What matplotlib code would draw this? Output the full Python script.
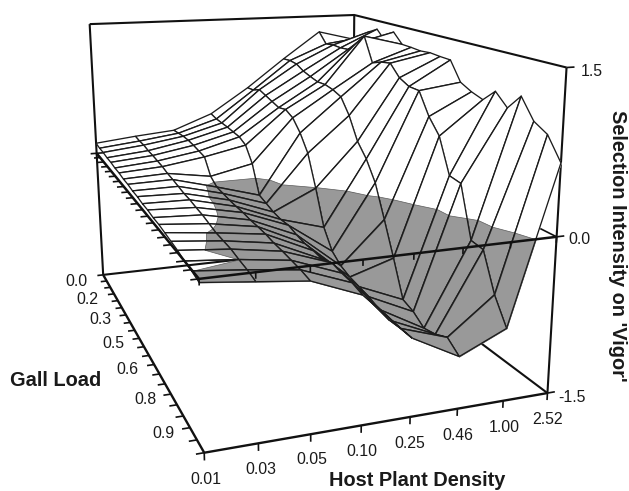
"""Selection intensity on 'vigor' over gall load and host plant density (surface)."""
import numpy as np
import matplotlib

matplotlib.use("Agg")
import matplotlib.pyplot as plt
from mpl_toolkits.mplot3d.art3d import Poly3DCollection

W, H = 629, 491

host_labels = ["0.01", "0.03", "0.05", "0.10", "0.25", "0.46", "1.00", "2.52"]
gall_labels = ["0.0", "0.2", "0.3", "0.5", "0.6", "0.8", "0.9"]
z_ticks = [-1.5, 0.0, 1.5]

# selection intensity per host density column, gall load 0.00 .. 1.00 in steps of 0.05
s_001 = [.12, .11, .11, .10, .10, .09, .09, .08, .08, .07, .07, .06, .06, .05, .05, .04, .03, .02, .00, -.01, -.03]
s_003 = [.17, .16, .16, .145, .14, .13, .12, .10, .09, .075, .06, .055, .04, .03, .01, -.01, -.015, -.02, -.04, -.055, -.08]
s_005 = [.21, .22, .23, .23, .22, .205, .19, .03, -.03, -.04, -.05, -.055, -.055, -.065, -.065, -.07, -.085, -.09, -.10, -.11, -.13]
s_010 = [.38, .36, .355, .35, .34, .33, .285, .13, -.16, -.19, -.22, -.235, -.23, -.26, -.28, -.28, -.29, -.25, -.27, -.28, -.31]
s_025 = [.67, .68, .72, .69, .66, .63, .65, .60, .48, .31, -.01, -.365, -.55, -.63, -.67, -.69, -.71, -.75, -.77, -.76, -.76]
s_046 = [1.0, 1.01, 1.0, .95, .92, .895, .90, .88, .84, .68, .45, .315, .12, -.20, -.53, -.88, -.92, -1.0, -.97, -.91, -1.0]
s_100 = [1.31, 1.19, 1.205, 1.20, 1.21, 1.307, 1.415, 1.15, 1.19, 1.21, 1.09, 1.035, 1.03, .81, .66, .32, .30, -.19, -.21, -.565, -.80]
s_252 = [1.20, 1.25, 1.345, 1.40, 1.29, 1.417, 1.305, 1.30, 1.29, 1.30, 1.29, 1.285, 1.09, 1.03, .99, 1.11, .99, 1.14, .95, .875, .67]

Z = np.array([s_001, s_003, s_005, s_010, s_025, s_046, s_100, s_252])
nu, nv = Z.shape
umax, vmax = nu - 1, nv - 1
zlo, zhi = z_ticks[0], z_ticks[-1]

# camera: where the box corners land in the picture (pixels, y down)
cam_world = [(0, 0, zlo), (0, vmax, zlo), (umax, vmax, zlo), (umax, 0, zlo),
             (0, 0, zhi), (umax, 0, zhi), (umax, vmax, zhi),
             (0, 0, 0), (0, vmax, 0), (umax, vmax, 0)]
cam_pixel = [(102, 274), (204, 453), (546, 393), (354, 247),
             (90, 24), (353, 15), (567, 67),
             (97, 154), (200, 279), (557, 237)]


def fit_camera(world, pixel):
    """3x4 projective camera from point pairs (DLT), output in figure pixels."""
    rows = []
    for (x, y, z), (px, py) in zip(world, pixel):
        px, py = px / W, (H - py) / H
        p = [x / umax, y / vmax, z / zhi, 1.0]
        rows.append(p + [0, 0, 0, 0] + [-px * c for c in p])
        rows.append([0, 0, 0, 0] + p + [-py * c for c in p])
    P = np.linalg.svd(np.array(rows))[2][-1].reshape(3, 4)
    if P[2] @ np.array([.5, .5, 0, 1]) < 0:
        P = -P
    return np.diag([W, H, 1.0]) @ P @ np.diag([1 / umax, 1 / vmax, 1 / zhi, 1.0])


fig = plt.figure(figsize=(W / 100, H / 100), dpi=100)
ax = fig.add_axes([0, 0, 1, 1], projection="3d", computed_zorder=False)
ax.apply_aspect = lambda position=None: None
ax.set_axis_off()

P = fit_camera(cam_world, cam_pixel)
inv = ax.transData.inverted().get_matrix()
M = np.vstack([inv[0, 0] * P[0] + inv[0, 2] * P[2],
               inv[1, 1] * P[1] + inv[1, 2] * P[2],
               [0, 0, 0, -1.0],
               P[2]])
ax.get_proj = lambda: M


def line(us, vs, zs, lw=1.5, color="#111111", zorder=1):
    ax.plot(us, vs, zs, color=color, lw=lw, zorder=zorder, solid_capstyle="butt", clip_on=False)


# walls behind the surface
line([0, 0], [0, 0], [zlo, zhi])
line([umax, umax], [0, 0], [zlo, zhi])
line([umax, umax], [vmax, vmax], [zlo, zhi])
line([0, umax, umax], [0, 0, vmax], [zhi, zhi, zhi])
line([0, umax, umax], [0, 0, vmax], [zlo, zlo, zlo])
line([0, umax, umax], [0, 0, vmax], [0, 0, 0], lw=1.2)

# floor frame and its ticks
line([0, 0, umax], [0, vmax, vmax], [zlo, zlo, zlo], lw=1.7)
for v in range(nv):
    line([0, -0.15], [v, v], [zlo, zlo], lw=1.2)
for u in range(nu):
    line([u, u], [vmax, vmax], [zlo, zlo - 0.07], lw=1.2)
for z in z_ticks:
    line([umax, umax + 0.17], [vmax, vmax], [z, z], lw=1.2)


def split_quad(quad):
    """Cut a quad at z=0 into the part above and the part below."""
    above, below = [], []
    for a, b in zip(quad, quad[1:] + quad[:1]):
        (above if a[2] >= 0 else below).append(a)
        if a[2] * b[2] < 0:
            t = a[2] / (a[2] - b[2])
            cross = (a[0] + t * (b[0] - a[0]), a[1] + t * (b[1] - a[1]), 0.0)
            above.append(cross)
            below.append(cross)
    return above, below


# painter's order: far gall load row first, far host density column first
order = 10
for v in range(nv - 1):
    for u in range(nu - 2, -1, -1):
        quad = [(u, v, Z[u, v]), (u + 1, v, Z[u + 1, v]),
                (u + 1, v + 1, Z[u + 1, v + 1]), (u, v + 1, Z[u, v + 1])]
        above, below = split_quad(quad)
        if len(above) > 2:
            ax.add_collection3d(Poly3DCollection([above], facecolors="white", edgecolors="white",
                                                 linewidths=0.3, zorder=order), autolim=False)
        if len(below) > 2:
            ax.add_collection3d(Poly3DCollection([below], facecolors="#999999", edgecolors="#5a5a5a",
                                                 linewidths=0.5, zorder=order + 1), autolim=False)
        xs, ys, zs = zip(*(quad + quad[:1]))
        line(xs, ys, zs, lw=0.95, color="#1c1c1c", zorder=order + 2)
        order += 3

# axes at the zero level lie on top of the surface
line([0, 0, umax], [0, vmax, vmax], [0, 0, 0], lw=1.8, zorder=order)
for v in range(nv):
    line([0, -0.15], [v, v], [0, 0], lw=1.2, zorder=order)
for u in range(nu):
    line([u, u], [vmax, vmax], [0, -0.055], lw=1.2, zorder=order)


def label(x, y, text, **kw):
    kw.setdefault("fontsize", 11.4)
    fig.text(x / W, 1 - y / H, text, ha=kw.pop("ha", "center"), va="center",
             color="#1a1a1a", family="Liberation Sans", **kw)


gall_label_px = [(76, 281), (87, 299), (100, 319), (113, 343), (127, 369), (145, 399), (163, 433)]
host_label_px = [(206, 480), (261, 469), (312, 460), (362, 451), (410, 443), (458, 435), (504, 428), (548, 419)]
z_label_px = [(572, 397), (579, 240), (592, 72)]

for (x, y), t in zip(gall_label_px, gall_labels):
    label(x, y, t)
for (x, y), t in zip(host_label_px, host_labels):
    label(x, y, t)
for (x, y), t in zip(z_label_px, [f"{z:.1f}" for z in z_ticks]):
    label(x, y, t)

label(56, 381, "Gall Load", fontsize=14.4, fontweight="bold")
label(329, 481, "Host Plant Density", fontsize=14.4, fontweight="bold", ha="left")
label(618, 246, "Selection Intensity on 'Vigor'", fontsize=14.4, fontweight="bold", rotation=-90)

fig.savefig("out.png", dpi=100)
